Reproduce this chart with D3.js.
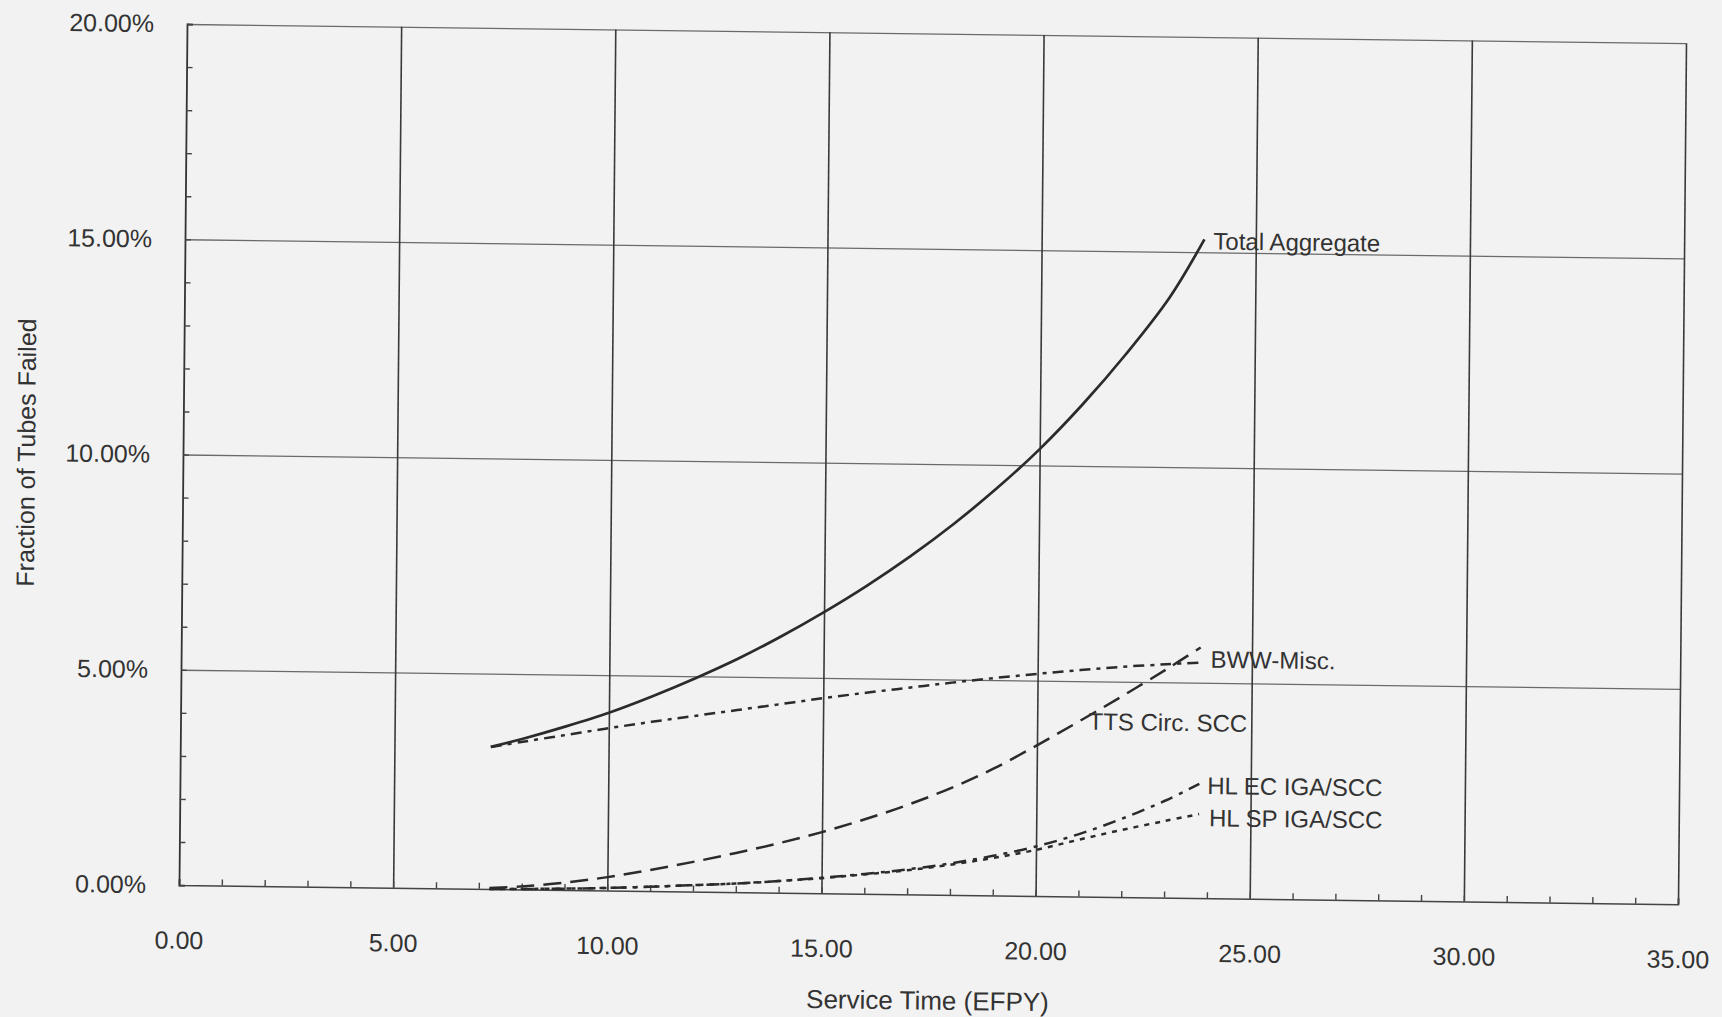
<!DOCTYPE html>
<html>
<head>
<meta charset="utf-8">
<script src="https://cdn.jsdelivr.net/npm/d3@7"></script>
<style>
  html, body { margin: 0; padding: 0; background: #f2f2f2; }
  svg { display: block; }
  text { font-family: "Liberation Sans", Arial, sans-serif; fill: #333; }
</style>
</head>
<body>
<div id="chart"></div>
<script>

// service time (EFPY) where the curves were read
const serviceYears = [7.25, 8, 9, 10, 11, 12, 13, 14, 15, 16, 17, 18, 19, 20, 21, 22, 23, 23.8];

// fraction of tubes failed, in percent
const totalAggregate = [3.30, 3.50, 3.80, 4.13, 4.52, 4.95, 5.42, 5.95, 6.53, 7.16, 7.85, 8.61, 9.45, 10.38, 11.44, 12.62, 13.94, 15.30];
const bwwMisc        = [3.30, 3.43, 3.60, 3.77, 3.93, 4.08, 4.23, 4.38, 4.53, 4.67, 4.80, 4.93, 5.05, 5.16, 5.26, 5.35, 5.42, 5.47];
const ttsCircScc     = [0.02, 0.07, 0.17, 0.31, 0.49, 0.69, 0.91, 1.15, 1.42, 1.73, 2.08, 2.48, 2.95, 3.50, 4.08, 4.68, 5.30, 5.82];
const hlEcIgaScc     = [0.00, 0.01, 0.03, 0.06, 0.10, 0.15, 0.20, 0.27, 0.36, 0.46, 0.58, 0.73, 0.92, 1.15, 1.45, 1.82, 2.25, 2.65];
const hlSpIgaScc     = [0.00, 0.01, 0.03, 0.06, 0.10, 0.15, 0.20, 0.27, 0.35, 0.45, 0.56, 0.70, 0.87, 1.07, 1.32, 1.56, 1.78, 1.95];

const seriesNames = ['Total Aggregate', 'BWW-Misc.', 'TTS Circ. SCC', 'HL EC IGA/SCC', 'HL SP IGA/SCC'];

// axis ticks
const xLabelTicks = [0, 5, 10, 15, 20, 25, 30, 35];
const yLabelTicks = [0, 5, 10, 15, 20];

const xTitle = 'Service Time (EFPY)';
const yTitle = 'Fraction of Tubes Failed';

// ---- layout / style (not data) ----
const width = 1499, height = 861;

const styles = [
    { dash: null,          w: 2.7 },   // solid
    { dash: '11,6,4,6',    w: 2.5 },   // dash dot
    { dash: '18,9',        w: 2.5 },   // dashed
    { dash: '13,7,4,7',    w: 2.5 },   // dash dot
    { dash: '5,6',         w: 2.5 }    // dotted
];

// label offsets relative to line end (px), TTS label sits on its own spot
const labelPos = [
    { dx: 9,  dy: 10 },
    { dx: 10, dy: 5 },
    { at: [21.2, 4.06], dx: 0, dy: 8 },
    { dx: 8,  dy: 10 },
    { dx: 10, dy: 12 }
];

const svg = d3.select('#chart')
    .append('svg')
        .attr('width', 1722)
        .attr('height', 1017);

// the scanned page is slightly skewed; mimic that with a small affine transform
const g = svg.append('g')
    .attr('transform', 'matrix(1, 0.0128, -0.0093, 1, 187, 24)');

const x = d3.scaleLinear()
    .domain([0, 35])
    .range([0, width]);

const y = d3.scaleLinear()
    .domain([0, 20])
    .range([height, 0]);

// horizontal grid lines (lighter in the scan)
g.append('g')
    .attr('class', 'hgrid')
    .call(d3.axisLeft(y).tickValues([5, 10, 15, 20]).tickSize(-width).tickFormat(''))
    .call(s => s.select('.domain').remove())
    .selectAll('line')
        .style('stroke', '#6a6a6a')
        .style('stroke-width', 1.3);

// vertical grid lines
g.append('g')
    .attr('class', 'vgrid')
    .attr('transform', `translate(0, ${height})`)
    .call(d3.axisBottom(x).tickValues([5, 10, 15, 20, 25, 30, 35]).tickSize(-height).tickFormat(''))
    .call(s => s.select('.domain').remove())
    .selectAll('line')
        .style('stroke', '#3a3a3a')
        .style('stroke-width', 1.6);

// minor ticks pointing inward
g.append('g')
    .attr('transform', `translate(0, ${height})`)
    .call(d3.axisBottom(x).tickValues(d3.range(0, 36)).tickSize(-6).tickFormat(''))
    .call(s => s.select('.domain').style('stroke', '#444').style('stroke-width', 1.6))
    .selectAll('line')
        .style('stroke', '#444')
        .style('stroke-width', 1.4);

g.append('g')
    .call(d3.axisLeft(y).tickValues(d3.range(0, 21)).tickSize(-6).tickFormat(''))
    .call(s => s.select('.domain').style('stroke', '#333').style('stroke-width', 1.8))
    .selectAll('line')
        .style('stroke', '#444')
        .style('stroke-width', 1.4);

// tick labels
g.append('g')
    .attr('transform', `translate(0, ${height})`)
    .call(d3.axisBottom(x).tickValues(xLabelTicks).tickSize(0).tickPadding(46).tickFormat(d3.format('.2f')))
    .call(s => s.select('.domain').remove())
    .selectAll('text')
        .style('font-size', '25px')
        .style('fill', '#333')
        .style('font-family', '"Liberation Sans", Arial, sans-serif');

g.append('g')
    .call(d3.axisLeft(y).tickValues(yLabelTicks).tickSize(0).tickPadding(33)
        .tickFormat(d => d3.format('.2f')(d) + '%'))
    .call(s => s.select('.domain').remove())
    .selectAll('text')
        .style('font-size', '25px')
        .style('fill', '#333')
        .style('font-family', '"Liberation Sans", Arial, sans-serif');

// axis titles
g.append('text')
    .attr('x', width / 2)
    .attr('y', height + 115)
    .attr('text-anchor', 'middle')
    .style('font-size', '26px')
    .text(xTitle);

g.append('text')
    .attr('transform', `translate(-148, ${height / 2}) rotate(-90)`)
    .attr('text-anchor', 'middle')
    .style('font-size', '25px')
    .text(yTitle);

// curves
const allSeries = [totalAggregate, bwwMisc, ttsCircScc, hlEcIgaScc, hlSpIgaScc];

const line = d3.line()
    .x(d => x(d[0]))
    .y(d => y(d[1]))
    .curve(d3.curveCatmullRom);

allSeries.forEach(function(values, i) {
    let pts = serviceYears.map((t, k) => [t, values[k]]);
    let st = styles[i];

    let path = g.append('path')
        .datum(pts)
        .attr('d', line)
        .style('fill', 'none')
        .style('stroke', '#2b2b2b')
        .style('stroke-width', st.w);
    if (st.dash) path.style('stroke-dasharray', st.dash);

    // label next to the line
    let lp = labelPos[i];
    let anchor = lp.at ? lp.at : pts[pts.length - 1];
    g.append('text')
        .attr('x', x(anchor[0]) + lp.dx)
        .attr('y', y(anchor[1]) + lp.dy)
        .style('font-size', '24px')
        .text(seriesNames[i]);
});

</script>
</body>
</html>
